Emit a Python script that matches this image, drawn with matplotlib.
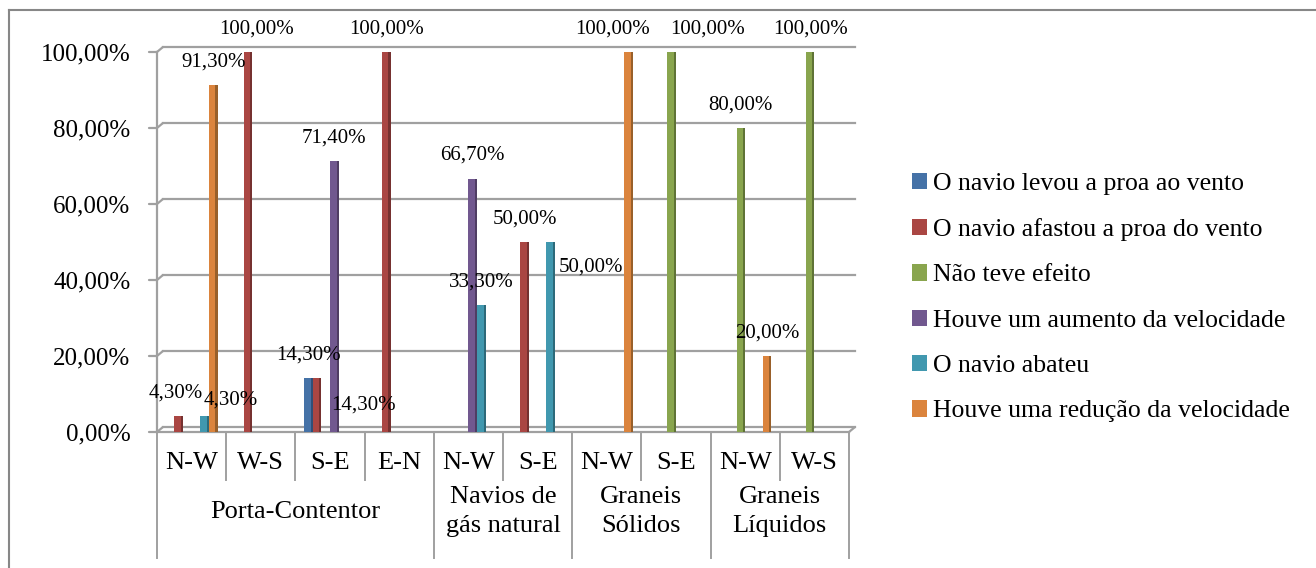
import matplotlib.pyplot as plt
import matplotlib.transforms as mtransforms
from matplotlib.patches import Patch
from matplotlib.lines import Line2D

plt.rcParams['font.family'] = ['Liberation Serif', 'DejaVu Serif']

# categories
sub_labels = ['N-W', 'W-S', 'S-E', 'E-N', 'N-W', 'S-E', 'N-W', 'S-E', 'N-W', 'W-S']
groups = ['Porta-Contentor', 'Navios de\ngás natural', 'Graneis\nSólidos', 'Graneis\nLíquidos']
group_sizes = [4, 2, 2, 2]

# series (percent), 0 = no bar
series_names = ['O navio levou a proa ao vento',
                'O navio afastou a proa do vento',
                'Não teve efeito',
                'Houve um aumento da velocidade',
                'O navio abateu',
                'Houve uma redução da velocidade']
levou = [0, 0, 14.3, 0, 0, 0, 0, 0, 0, 0]
afastou = [4.3, 100, 14.3, 100, 0, 50, 0, 0, 0, 0]
sem_efeito = [0, 0, 0, 0, 0, 0, 0, 100, 80, 100]
aumento = [0, 0, 71.4, 0, 66.7, 0, 0, 0, 0, 0]
abateu = [4.3, 0, 0, 0, 33.3, 50, 0, 0, 0, 0]
reducao = [91.3, 0, 0, 0, 0, 0, 100, 0, 20, 0]
series = [levou, afastou, sem_efeito, aumento, abateu, reducao]

colors = ['#4572A7', '#AA4643', '#89A54E', '#71588F', '#4198AF', '#DB843D']
side_colors = ['#2F4F78', '#763130', '#5F7336', '#4F3D63', '#2D6A7A', '#99602A']

# label nudges in pixels (x, y) for labels Excel moved off the bar top
nudges = {(1, 0): (-3, 0), (4, 0): (26, -7), (1, 1): (9, 0),
          (1, 2): (46, -50), (4, 5): (40, -48), (5, 6): (-16, 0),
          (2, 7): (36, 0)}

W, H = 1316, 568
fig = plt.figure(figsize=(W / 100, H / 100), dpi=100)
ax = fig.add_axes([157 / W, 136 / H, 692 / W, 380 / H])
ax.set_xlim(-0.5, 9.5)
ax.set_ylim(0, 100)
for s in ax.spines.values():
    s.set_visible(False)
ax.set_xticks([])
ax.set_yticks(range(0, 101, 20))
ax.set_yticklabels(['{:.2f}%'.format(v).replace('.', ',') for v in range(0, 101, 20)],
                   fontsize=18)
ax.tick_params(axis='y', length=0, pad=19)

grid_c = '#A0A0A0'
# back wall gridlines shifted for the 3D look
shift = mtransforms.ScaledTranslation(6 / 100, 5 / 100, fig.dpi_scale_trans)
for v in range(0, 101, 20):
    ax.plot([-0.5, 9.5], [v, v], color=grid_c, lw=1.6,
            transform=ax.transData + shift, clip_on=False, zorder=1)
    # tick + diagonal connector
    ax.annotate('', xy=(-0.5, v), xytext=(-8, 0), textcoords='offset pixels',
                arrowprops=dict(arrowstyle='-', color=grid_c, lw=1.6,
                                shrinkA=0, shrinkB=0))
    ax.annotate('', xy=(-0.5, v), xytext=(6, 5), textcoords='offset pixels',
                arrowprops=dict(arrowstyle='-', color=grid_c, lw=1.6,
                                shrinkA=0, shrinkB=0))
ax.plot([-0.5, -0.5], [0, 100], color=grid_c, lw=1.6, clip_on=False, zorder=1)
ax.plot([-0.5, 9.5], [0, 0], color=grid_c, lw=1.6, clip_on=False, zorder=1)
ax.annotate('', xy=(9.5, 0), xytext=(6, 5), textcoords='offset pixels',
            arrowprops=dict(arrowstyle='-', color=grid_c, lw=1.6,
                            shrinkA=0, shrinkB=0))

# bars
slot = 0.125
front = slot * 0.76
side = slot * 0.24
for i, vals in enumerate(series):
    for j, v in enumerate(vals):
        if v == 0:
            continue
        x0 = j + (i - 3) * slot
        ax.bar(x0, v, width=front, align='edge', color=colors[i], zorder=3)
        ax.bar(x0 + front, v, width=side, align='edge', color=side_colors[i], zorder=3)
        dx, dy = nudges.get((i, j), (0, 0))
        ax.annotate('{:.2f}%'.format(v).replace('.', ','), xy=(x0 + slot / 2, v),
                    xytext=(dx, 23 + dy), textcoords='offset pixels',
                    ha='center', va='center', fontsize=15, zorder=5,
                    annotation_clip=False)

# category axis: sub labels, group labels, dividers
xt = ax.get_xaxis_transform()
bounds = [0]
for g in group_sizes:
    bounds.append(bounds[-1] + g)
for k in range(len(sub_labels) + 1):
    depth = -0.332 if k in bounds else -0.126
    ax.plot([k - 0.5, k - 0.5], [0, depth], color=grid_c, lw=1.4,
            transform=xt, clip_on=False)
for j, lab in enumerate(sub_labels):
    ax.text(j, -0.082, lab, transform=xt, ha='center', va='center', fontsize=19)
for g, name in enumerate(groups):
    mid = (bounds[g] + bounds[g + 1]) / 2 - 0.5
    ax.text(mid, -0.21, name, transform=xt, ha='center', va='center',
            fontsize=19, linespacing=1.4)

# legend
handles = [Patch(facecolor=c, edgecolor='none') for c in colors]
fig.legend(handles, series_names, loc='center left', bbox_to_anchor=(912 / W, 0.476),
           frameon=False, fontsize=18.5, borderpad=0, borderaxespad=0,
           handlelength=0.6, handleheight=0.6, handletextpad=0.2, labelspacing=0.9)

# chart border (left and top visible)
fig.add_artist(Line2D([9 / W, 9 / W], [0, 1 - 10 / H], color='#878787', lw=1.5))
fig.add_artist(Line2D([9 / W, 1], [1 - 10 / H, 1 - 10 / H], color='#878787', lw=1.5))

fig.savefig('out.png', dpi=100)
